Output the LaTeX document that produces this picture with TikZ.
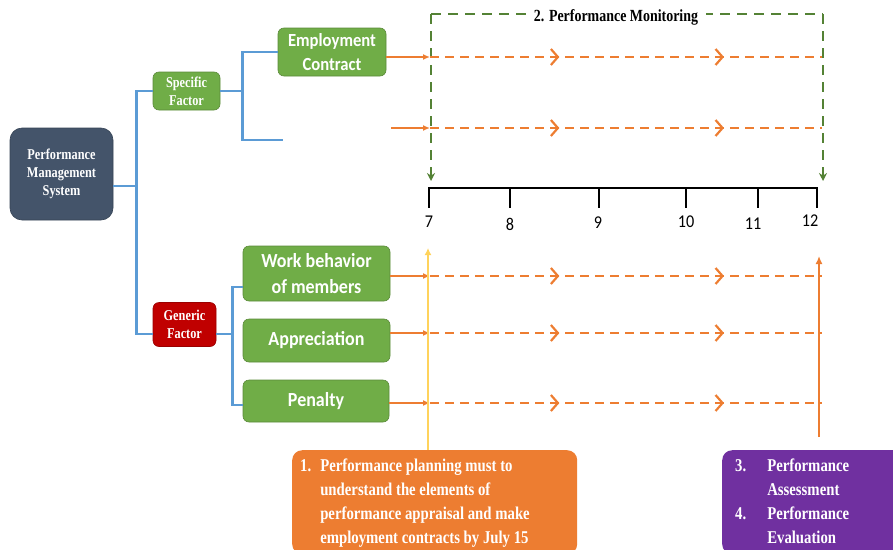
\documentclass[tikz,border=0pt]{standalone}
\usepackage{fontspec}
\setmainfont{Liberation Serif}
\newfontfamily\tnr[FakeStretch=0.82]{Liberation Serif}
\newfontfamily\calibri[FakeStretch=0.9]{Carlito}
\usetikzlibrary{arrows.meta,decorations.markings}

\definecolor{pmsblue}{HTML}{44546A}
\definecolor{leafgreen}{HTML}{70AD47}
\definecolor{genred}{HTML}{C00000}
\definecolor{linkblue}{HTML}{5B9BD5}
\definecolor{feedorange}{HTML}{ED7D31}
\definecolor{watchgreen}{HTML}{548235}
\definecolor{planyellow}{HTML}{FFD35C}
\definecolor{evalpurple}{HTML}{7030A0}

\tikzset{
  box/.style={rounded corners=6pt, fill=#1, draw=#1!80!black, line width=0.6pt,
    text=white, align=center, inner sep=1pt},
  factor/.style={box=#1, font=\tnr\bfseries\fontsize{15}{18}\selectfont},
  item/.style={box=leafgreen, font=\calibri\bfseries\fontsize{20}{26}\selectfont},
  link/.style={linkblue, line width=2.6pt},
  feed/.style={feedorange, line width=2.2pt, -{Latex[length=7pt,width=6pt]}},
  track/.style={feedorange, line width=2.2pt, dash pattern=on 9pt off 6pt,
    decoration={markings,
      mark=at position 0.33 with {\arrow{Straight Barb[length=7pt,width=16pt]}},
      mark=at position 0.75 with {\arrow{Straight Barb[length=7pt,width=16pt]}}},
    postaction={decorate}},
  watch/.style={watchgreen, line width=2pt, dash pattern=on 10pt off 7pt},
  month/.style={font=\calibri\fontsize{18}{20}\selectfont, inner sep=1pt},
  note/.style={rounded corners=10pt, fill=#1, text=white, anchor=north west,
    inner xsep=8pt, inner ysep=4pt, font=\tnr\bfseries\fontsize{18}{24}\selectfont}
}

\begin{document}
\begin{tikzpicture}[x=1pt, y=-1pt]
  \useasboundingbox (0,0) rectangle (893,549);
  % tree of factors
  \node[box=pmsblue, rounded corners=12pt, minimum width=103, minimum height=92,
    font=\tnr\bfseries\fontsize{15}{18}\selectfont] (pms) at (61.5,174)
    {Performance\\Management\\System};
  \node[factor=leafgreen, minimum width=67, minimum height=38] (spec) at (186.5,91) {Specific\\Factor};
  \node[factor=genred, minimum width=63, minimum height=44] (gen) at (184.5,324.5) {Generic\\Factor};
  \node[item, minimum width=108, minimum height=48, font=\calibri\bfseries\fontsize{18.5}{24}\selectfont]
    (emp) at (332,52) {Employment\\Contract};
  \node[item, minimum width=147, minimum height=55] (work) at (316.5,273.5) {Work behavior\\of members};
  \node[item, minimum width=147, minimum height=43] (appr) at (316.5,340.5) {Appreciation};
  \node[item, minimum width=146, minimum height=42] (pen) at (316,401) {Penalty};
  \coordinate (blank) at (283,140);
  %
  \draw[link] ([yshift=-12pt]pms.east) -- ++(23,0) coordinate (trunk);
  \draw[link] (spec.west) -| (trunk) |- ([yshift=-9.5pt]gen.west);
  \draw[link] (spec.east) -- ++(22,0) coordinate (sj);
  \draw[link] (emp.west) -| (sj) |- (blank);
  \draw[link] ([yshift=-9.5pt]gen.east) -- ++(16,0) coordinate (gj);
  \draw[link] ([yshift=-13.5pt]work.west) -| (gj) |- ([yshift=-4pt]pen.west);
  %
  % monitoring frame
  \coordinate (mtl) at (431,14);
  \coordinate (mtr) at (823,14);
  \coordinate (mbl) at (431,181);
  \coordinate (mbr) at (823,181);
  \draw[watch] (mtl) -- (mtr);
  \draw[watch, -{Stealth[length=8pt,width=8pt]}] (mtl) -- (mbl);
  \draw[watch, -{Stealth[length=8pt,width=8pt]}] (mtr) -- (mbr);
  \node[fill=white, inner xsep=8pt, font=\tnr\bfseries\fontsize{17}{20}\selectfont]
    (mon) at (616,17) {2. Performance Monitoring};
  %
  % time line
  \foreach \m/\x/\lx/\ly in {7/429/429/222, 8/510/510/224, 9/599/598/223,
      10/686/686/222, 11/758/753/224, 12/817/810/221} {
    \coordinate (k\m) at (\x,188);
    \draw[line width=2pt] (k\m) -- ++(0,20);
    \node[month] (l\m) at (\lx,\ly) {\m};
  }
  \draw[line width=2pt] ([xshift=-1pt]k7) -- ([xshift=1pt]k12);
  %
  % tracks
  \foreach \n/\y in {a/57, b/128, c/276, d/333, e/403} {
    \coordinate (s\n) at (430,\y);
    \coordinate (e\n) at (822,\y);
    \draw[track] (s\n) -- (e\n);
  }
  \coordinate (fb) at (391,128);
  \draw[feed] (emp.east |- sa) -- (sa);
  \draw[feed] (fb) -- (sb);
  \draw[feed] (work.east |- sc) -- (sc);
  \draw[feed] (appr.east |- sd) -- (sd);
  \draw[feed] (pen.east |- se) -- (se);
  %
  % planning and evaluation
  \node[note=feedorange] (plan) at (292,450) {\makebox[269pt][l]{%
    \begin{tabular}{@{}l@{\hspace{9pt}}l@{}}
      1. & Performance planning must to\\
         & understand the elements of\\
         & performance appraisal and make\\
         & employment contracts by July 15
    \end{tabular}}};
  \node[note=evalpurple] (eval) at (722,450) {\makebox[174pt][l]{%
    \hspace{5pt}\begin{tabular}{@{}l@{\hspace{21pt}}l@{}}
      3. & Performance\\
         & Assessment\\
      4. & Performance\\
         & Evaluation
    \end{tabular}}};
  \coordinate (ytop) at (428,248);
  \draw[planyellow, line width=1.8pt, -{Latex[length=7pt,width=7pt]}] (plan.north -| ytop) -- (ytop);
  \coordinate (otop) at (819,256);
  \coordinate (obot) at (819,437);
  \draw[feedorange, line width=2pt, -{Latex[length=8pt,width=7pt]}] (obot) -- (otop);
\end{tikzpicture}
\end{document}
